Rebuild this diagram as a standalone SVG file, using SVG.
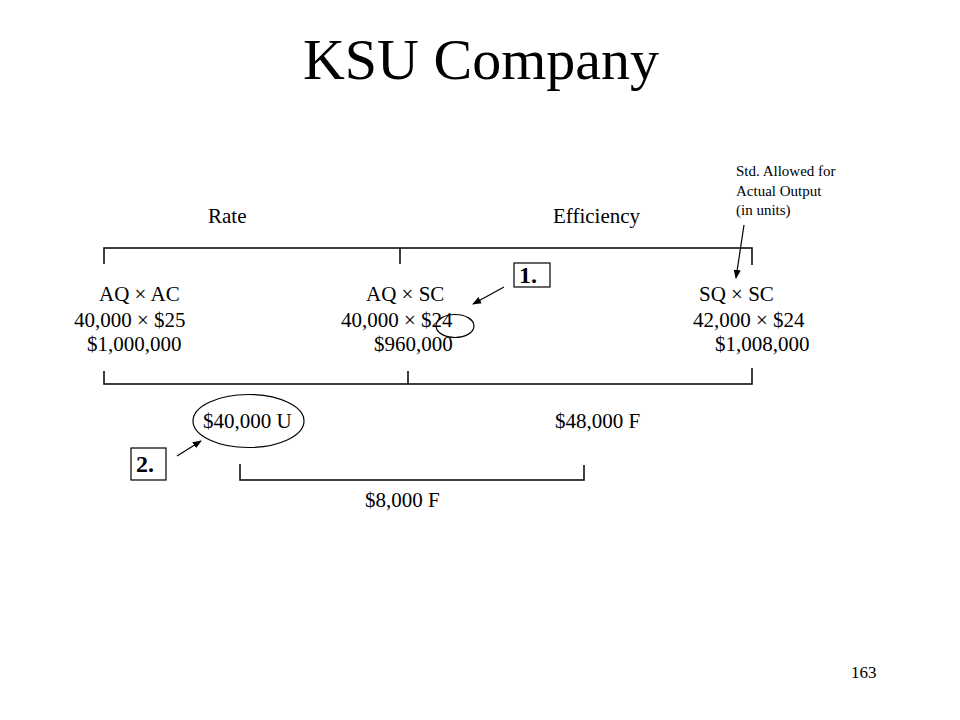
<svg xmlns="http://www.w3.org/2000/svg" width="960" height="720" viewBox="0 0 960 720">
<style>
text{font-family:"Liberation Serif","Times New Roman",serif;fill:#000}
.m{font-size:21px}
.s{font-size:15px}
.b{font-size:24px;font-weight:bold}
.ln{fill:none;stroke:#000;stroke-width:1.5}
.ar{fill:none;stroke:#000;stroke-width:1.2}
</style>
<defs>
<marker id="ah" viewBox="0 0 10 10" refX="9" refY="5" markerWidth="9" markerHeight="9" markerUnits="userSpaceOnUse" orient="auto">
<path d="M0,1 L10,5 L0,9 Z" fill="#000"/>
</marker>
</defs>
<rect width="960" height="720" fill="#fff"/>
<text x="481" y="79" font-size="58" text-anchor="middle">KSU Company</text>
<text class="m" x="208" y="223">Rate</text>
<text class="m" x="553" y="223">Efficiency</text>
<g id="note">
<text class="s" x="736" y="176">Std. Allowed for</text>
<text class="s" x="736" y="196">Actual Output</text>
<text class="s" x="736" y="215">(in units)</text>
</g>
<g id="col-actual">
<text class="m" x="99" y="301">AQ × AC</text>
<text class="m" x="74" y="327">40,000 × $25</text>
<text class="m" x="87" y="351">$1,000,000</text>
</g>
<g id="col-aqsc">
<text class="m" x="366" y="301">AQ × SC</text>
<text class="m" x="341" y="327">40,000 × $24</text>
<text class="m" x="374" y="351">$960,000</text>
<ellipse class="ar" cx="455" cy="326" rx="19" ry="11.5"/>
</g>
<g id="col-sqsc">
<text class="m" x="699" y="301">SQ × SC</text>
<text class="m" x="693" y="327">42,000 × $24</text>
<text class="m" x="715" y="351">$1,008,000</text>
</g>
<g id="label1">
<rect class="ar" x="514" y="263" width="36" height="24"/>
<text class="b" x="519" y="283">1.</text>
</g>
<g id="rate-var">
<ellipse class="ar" cx="248.5" cy="421" rx="55.5" ry="26.5"/>
<text class="m" x="203" y="428">$40,000 U</text>
</g>
<g id="eff-var">
<text class="m" x="555" y="428">$48,000 F</text>
</g>
<g id="label2">
<rect class="ar" x="131" y="448" width="35" height="32"/>
<text class="b" x="136" y="472">2.</text>
</g>
<g id="total-var">
<text class="m" x="365" y="507">$8,000 F</text>
</g>
<text x="851" y="678" font-size="17">163</text>
<g id="connectors">
<path class="ln" d="M104,264 V248 H752 V265 M400,248 V264"/>
<path class="ln" d="M104,371 V384 H752 V368 M408,371 V384"/>
<path class="ln" d="M240,464 V480 H584 V465"/>
<line class="ar" x1="744" y1="225" x2="736" y2="278" marker-end="url(#ah)"/>
<line class="ar" x1="504" y1="287" x2="473" y2="304" marker-end="url(#ah)"/>
<line class="ar" x1="177" y1="456" x2="201" y2="441" marker-end="url(#ah)"/>
</g>
</svg>
